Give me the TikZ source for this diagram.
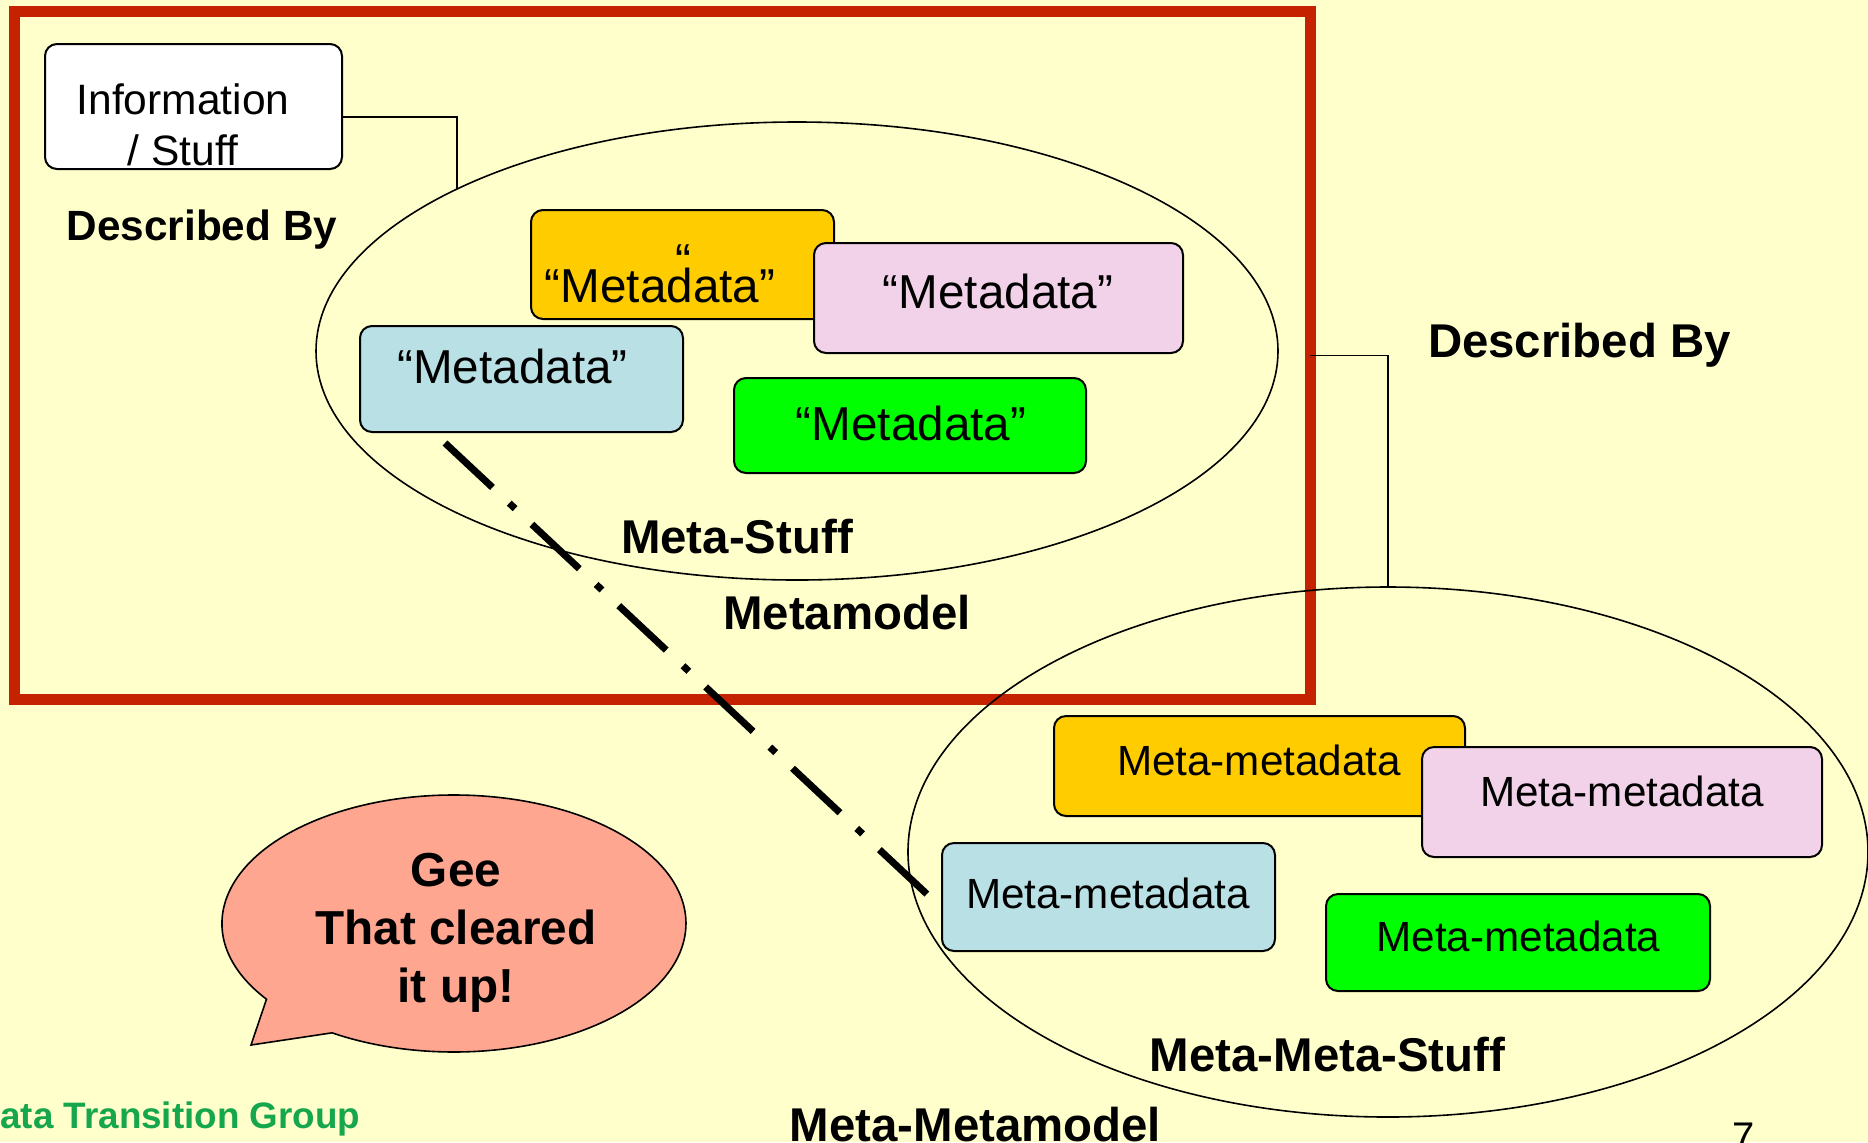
\documentclass[tikz,border=0pt]{standalone}
\usepackage{fontspec}
\setmainfont{Liberation Sans}
\usetikzlibrary{shapes.geometric}
\definecolor{bg}{RGB}{255,255,204}
\definecolor{framered}{RGB}{196,34,0}
\definecolor{mdyellow}{RGB}{255,204,0}
\definecolor{mdpink}{RGB}{242,210,232}
\definecolor{mdblue}{RGB}{185,224,228}
\definecolor{mdgreen}{RGB}{0,255,0}
\definecolor{bubblefill}{RGB}{255,166,145}
\definecolor{footgreen}{RGB}{22,166,76}
\begin{document}
\begin{tikzpicture}[x=0.5pt,y=-0.5pt,
  mbox/.style={draw=black, line width=1pt, rounded corners=6pt, inner sep=0pt, outer sep=0pt},
  mdtext/.style={font=\fontsize{23.8}{28}\selectfont, anchor=base, inner sep=0pt},
  mmtext/.style={font=\fontsize{21.1}{25}\selectfont, anchor=base, inner sep=0pt},
  lbl/.style={font=\bfseries\fontsize{23.7}{28}\selectfont, anchor=base, inner sep=0pt},
  conn/.style={draw=black, line width=0.8pt},
  blob/.style={draw=black, line width=0.8pt, ellipse, inner sep=0pt, outer sep=0pt},
  dashdot/.style={draw=black, line width=3.5pt, dash pattern=on 32.5pt off 11.5pt on 4pt off 11.5pt}]
\useasboundingbox (0,0) rectangle (1868,1142);
\fill[bg] (0,0) rectangle (1868,1142);
\clip (0,0) rectangle (1868,1142);

% metamodel frame
\node[draw=framered, line width=5.5pt, inner sep=0pt, outer sep=0pt,
      minimum width=648pt, minimum height=344pt] (frame) at (662,355.5) {};

% upper ellipse (Meta-Stuff)
\node[blob, minimum width=481pt, minimum height=229pt] (e1) at (797,351) {};

% Information / Stuff
\node[mbox, fill=white, minimum width=148.5pt, minimum height=62.5pt] (info) at (193.5,106.5) {};
\node[font=\fontsize{21.25}{25.5}\selectfont, align=center, inner sep=0pt] (infotxt) at (183,125) {Information\\/ Stuff};
\coordinate (c1e) at (457,189);
\draw[conn] ([yshift=-5.25pt]info.east) -| (c1e);

% Metadata boxes
\node[mbox, fill=mdyellow, minimum width=151.5pt, minimum height=54.5pt] (md1) at (682.5,264.5) {};
\node[mdtext] (md1q) at (683,277) {“};
\node[mdtext] (md1t) at (660,302) {“Metadata”};
\node[mbox, fill=mdpink, minimum width=184.5pt, minimum height=55pt] (md2) at (998.5,298) {};
\node[mdtext] (md2t) at (998,308) {“Metadata”};
\node[mbox, fill=mdblue, minimum width=161.5pt, minimum height=53pt] (md3) at (521.5,379) {};
\node[mdtext] (md3t) at (512.5,383) {“Metadata”};
\node[mbox, fill=mdgreen, minimum width=176pt, minimum height=47.5pt] (md4) at (910,425.5) {};
\node[mdtext] (md4t) at (911,440) {“Metadata”};

\node[lbl, font=\bfseries\fontsize{21.15}{26}\selectfont] (db1) at (202,240) {Described By};
\node[lbl] (ms) at (737,553) {Meta-Stuff};
\node[lbl] (mm) at (847,629) {Metamodel};

% lower ellipse (Meta-Meta-Stuff)
\node[blob, minimum width=480pt, minimum height=265pt] (e2) at (1388,852) {};
\draw[conn] (frame.east) -| (e2.north);
\node[lbl] (db2) at (1579.5,357) {Described By};

% Meta-metadata boxes
\node[mbox, fill=mdyellow, minimum width=205.5pt, minimum height=50pt] (mb1) at (1259.5,766) {};
\node[mmtext] (mb1t) at (1259,775) {Meta-metadata};
\node[mbox, fill=mdpink, minimum width=200pt, minimum height=55pt] (mb2) at (1622,802) {};
\node[mmtext] (mb2t) at (1622,806) {Meta-metadata};
\node[mbox, fill=mdblue, minimum width=166.5pt, minimum height=54pt] (mb3) at (1108.5,897) {};
\node[mmtext] (mb3t) at (1108,908) {Meta-metadata};
\node[mbox, fill=mdgreen, minimum width=192pt, minimum height=48.5pt] (mb4) at (1518,942.5) {};
\node[mmtext] (mb4t) at (1518.5,951) {Meta-metadata};

\node[lbl] (mms) at (1327.5,1071) {Meta-Meta-Stuff};
\node[lbl] (mmm) at (975.5,1141) {Meta-Metamodel};

% speech bubble
\filldraw[fill=bubblefill, draw=black, line width=0.8pt, line join=miter]
  (251,1045) -- (266.5,999.2)
  arc[start angle=143.9, end angle=481.7, x radius=232, y radius=128.5] -- cycle;
\node[font=\bfseries\fontsize{23.85}{29}\selectfont, align=center, inner sep=0pt] (bubble) at (456,933) {Gee\\That cleared\\it up!};

% footer
\node[font=\bfseries\fontsize{18.4}{22}\selectfont, text=footgreen, anchor=base west, inner sep=0pt] (foot) at (0,1128) {ata Transition Group};
\node[font=\fontsize{20}{24}\selectfont, anchor=base, inner sep=0pt] (pg) at (1744,1150) {7};

% dash-dot link
\coordinate (dd1) at (445,443);
\draw[dashdot] (dd1) -- ([xshift=-6pt]mb3.west);
\end{tikzpicture}
\end{document}
